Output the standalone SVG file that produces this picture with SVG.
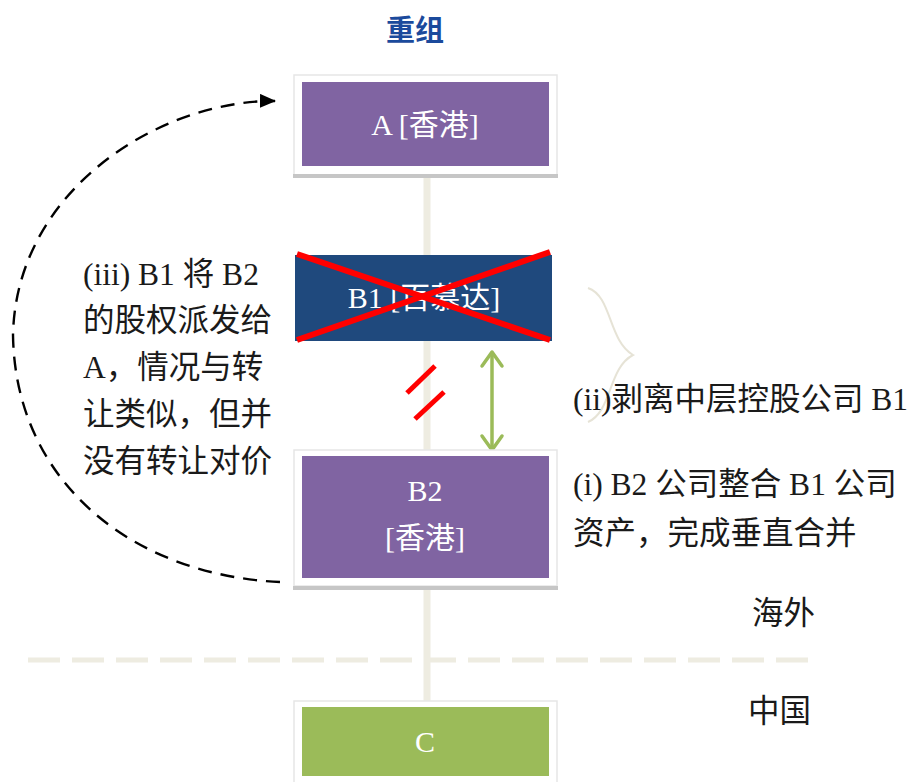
<svg xmlns="http://www.w3.org/2000/svg" width="909" height="782" viewBox="0 0 909 782">
<defs>
<style>
.frame{fill:#ffffff;stroke:#e6e6e6;stroke-width:1.5}
.shadow{fill:#c6c6c6}
.ntext{font-family:"Liberation Serif","Noto Sans CJK SC",serif;font-size:30px;fill:#ffffff;text-anchor:middle}
.label{font-family:"Liberation Serif","Noto Sans CJK SC",serif;font-size:31.5px;fill:#1a1a1a}
.purple{fill:#8064a2}
.chev{fill:none;stroke:#9bbb59;stroke-width:3.5;stroke-linecap:round;stroke-linejoin:round}
</style>
<marker id="ah" markerWidth="16" markerHeight="14" refX="15" refY="7" orient="auto" markerUnits="userSpaceOnUse">
<path d="M0,0 L16,7 L0,14 Z" fill="#000"/>
</marker>
</defs>
<rect width="909" height="782" fill="#ffffff"/>
<text x="415" y="41" font-family="'Noto Sans CJK SC',sans-serif" font-size="29" font-weight="bold" fill="#1b4a9c" text-anchor="middle">重组</text>

<g id="connectors">
<line x1="427" y1="176" x2="427" y2="702" stroke="#eeece1" stroke-width="7"/>
<line x1="28" y1="660" x2="810" y2="660" stroke="#eeece1" stroke-width="5" stroke-dasharray="32,12"/>
<path d="M280,582 C130,575 15,480 13,335 C16,190 160,100 275,101" fill="none" stroke="#000" stroke-width="2.4" stroke-dasharray="14,9" marker-end="url(#ah)"/>
<line x1="492" y1="354" x2="492" y2="448" stroke="#9bbb59" stroke-width="3.5"/>
<path class="chev" d="M482,366 L492,352 L502,366"/>
<path class="chev" d="M482,436 L492,450 L502,436"/>
<line x1="407" y1="393" x2="435" y2="366" stroke="#ff0000" stroke-width="5"/>
<line x1="415" y1="419" x2="444" y2="392" stroke="#ff0000" stroke-width="5"/>
<path d="M588,288 C612,296 608,340 633,355 C608,368 612,412 588,422" fill="none" stroke="#e6e3d6" stroke-width="2"/>
</g>

<g id="node-A">
<rect class="frame" x="294" y="75" width="263" height="100"/>
<rect class="shadow" x="293" y="174" width="265" height="4"/>
<rect class="purple" x="302" y="82" width="247" height="84"/>
<text class="ntext" x="425" y="135">A [香港]</text>
</g>

<g id="node-B1">
<rect x="295" y="255" width="257" height="86" fill="#1f497d"/>
<text class="ntext" x="424" y="308">B1 [百慕达]</text>
<line x1="297" y1="254" x2="550" y2="340" stroke="#ff0000" stroke-width="6"/>
<line x1="297" y1="340" x2="550" y2="252" stroke="#ff0000" stroke-width="6"/>
</g>

<g id="node-B2">
<rect class="frame" x="294" y="450" width="263" height="136"/>
<rect class="shadow" x="293" y="586" width="265" height="4"/>
<rect class="purple" x="302" y="456" width="247" height="122"/>
<text class="ntext" x="425" y="501">B2</text>
<text class="ntext" x="425" y="548">[香港]</text>
</g>

<g id="node-C">
<rect class="frame" x="294" y="701" width="263" height="90"/>
<rect x="302" y="707" width="247" height="69" fill="#9bbb59"/>
<text class="ntext" x="425" y="752">C</text>
</g>

<g id="labels">
<text class="label" x="83" y="285">(iii) B1 将 B2</text>
<text class="label" x="83" y="331">的股权派发给</text>
<text class="label" x="83" y="378">A，情况与转</text>
<text class="label" x="83" y="425">让类似，但并</text>
<text class="label" x="83" y="472">没有转让对价</text>
<text class="label" x="573" y="410">(ii)剥离中层控股公司 B1</text>
<text class="label" x="573" y="495">(i) B2 公司整合 B1 公司</text>
<text class="label" x="573" y="544">资产，完成垂直合并</text>
<text class="label" x="752" y="624">海外</text>
<text class="label" x="748" y="722">中国</text>
</g>
</svg>
